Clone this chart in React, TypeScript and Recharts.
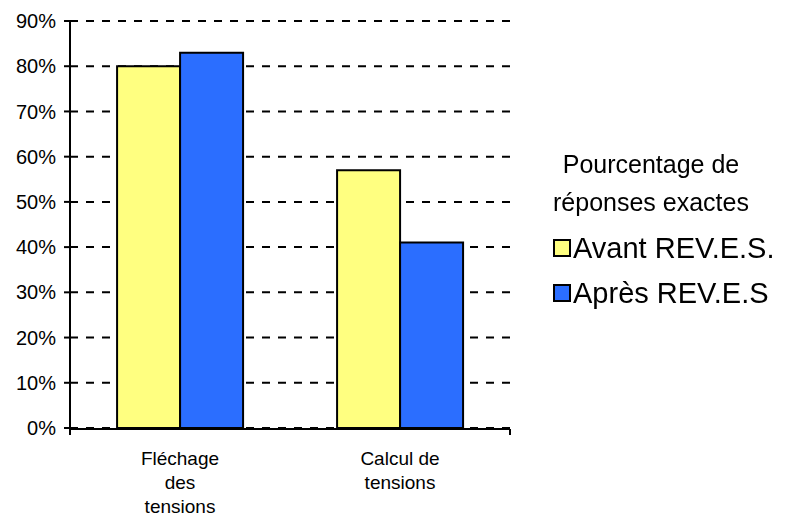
import { BarChart, Bar, XAxis, YAxis, CartesianGrid, Legend } from 'recharts'

const categories = ['Fléchage\ndes\ntensions', 'Calcul de\ntensions']
const avant = [80, 57]
const apres = [83, 41]
const yTicks = [0, 10, 20, 30, 40, 50, 60, 70, 80, 90]
const edgeTicks = [0, 1, 2]
const seriesNames = ['Avant REV.E.S.', 'Après REV.E.S']
const legendTitle = ['Pourcentage de', 'réponses exactes']

const data = categories.map((name, i) => ({ name, avant: avant[i], apres: apres[i] }))

const FONT = '"Liberation Sans", Arial, sans-serif'

function CategoryTick({ x, y, payload }: any) {
  const lines = String(payload.value).split('\n')
  return (
    <text x={x} y={y + 29} textAnchor="middle" fontSize={19} fontFamily={FONT} fill="#000">
      {lines.map((l, i) => (
        <tspan key={i} x={x} dy={i === 0 ? 0 : 24}>
          {l}
        </tspan>
      ))}
    </text>
  )
}

function LegendBox({ payload }: any) {
  const items = [...(payload || [])].sort(
    (a: any, b: any) => seriesNames.indexOf(a.value) - seriesNames.indexOf(b.value),
  )
  return (
    <div style={{ position: 'relative', width: 282, height: 180, fontFamily: FONT, color: '#000' }}>
      {legendTitle.map((t, i) => (
        <div
          key={t}
          style={{ position: 'absolute', left: 0, width: 282, top: i * 38, lineHeight: '38px', textAlign: 'center', fontSize: 25 }}
        >
          {t}
        </div>
      ))}
      {items.map((p: any, i: number) => (
        <div
          key={p.value}
          style={{ position: 'absolute', left: 43, top: 83 + i * 45, height: 40, display: 'flex', alignItems: 'center', whiteSpace: 'nowrap', fontSize: 29 }}
        >
          <span style={{ display: 'inline-block', width: 14, height: 14, border: '2px solid #000', background: p.color, marginRight: 2 }} />
          {p.value}
        </div>
      ))}
    </div>
  )
}

export default function App() {
  return (
    <div style={{ position: 'fixed', left: 0, top: 0, width: 787, height: 523, background: '#fff' }}>
      <BarChart
        width={787}
        height={523}
        data={data}
        margin={{ top: 21, right: 277, left: 0, bottom: 93 }}
        barCategoryGap="21.4%"
        barGap={0}
      >
        <CartesianGrid vertical={false} xAxisId="cat" stroke="#000" strokeWidth={2} strokeDasharray="8 8" />
        <XAxis
          xAxisId="edge"
          type="number"
          domain={[0, 2]}
          ticks={edgeTicks}
          height={1}
          tickSize={6}
          tickFormatter={() => ''}
          axisLine={{ stroke: '#000', strokeWidth: 2 }}
          tickLine={{ stroke: '#000', strokeWidth: 2 }}
        />
        <XAxis
          xAxisId="cat"
          dataKey="name"
          height={1}
          axisLine={false}
          tickLine={false}
          interval={0}
          tick={<CategoryTick />}
        />
        <YAxis
          width={70}
          domain={[0, 90]}
          ticks={yTicks}
          tickSize={6}
          tickMargin={8}
          tickFormatter={(v: number) => `${v}%`}
          axisLine={{ stroke: '#000', strokeWidth: 2 }}
          tickLine={{ stroke: '#000', strokeWidth: 2 }}
          tick={{ fill: '#000', fontSize: 20, fontFamily: FONT }}
        />
        <Legend
          layout="horizontal"
          verticalAlign="middle"
          align="center"
          wrapperStyle={{ position: 'absolute', left: 510, top: 145, width: 282 }}
          content={<LegendBox />}
        />
        <Bar xAxisId="cat" dataKey="avant" name={seriesNames[0]} fill="#FFFF80" stroke="#000" strokeWidth={2} isAnimationActive={false} />
        <Bar xAxisId="cat" dataKey="apres" name={seriesNames[1]} fill="#2B6EFF" stroke="#000" strokeWidth={2} isAnimationActive={false} />
      </BarChart>
    </div>
  )
}
